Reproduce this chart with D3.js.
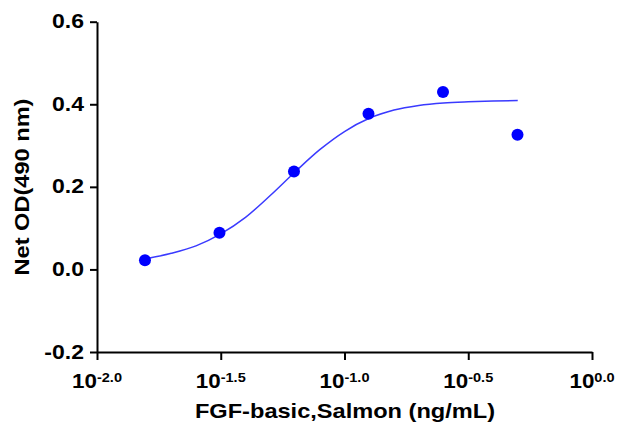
<!DOCTYPE html>
<html>
  <head>
    <meta charset="utf-8">
    <style>
      body { margin: 0; background: #fff; }
      svg { display: block; }
      .axis path, .axis line { stroke: #000; stroke-width: 2px; }
      .lbl { font-family: "Liberation Sans", Arial, sans-serif; font-weight: bold; fill: #000; }
    </style>
  </head>
  <body>
    <svg id="chart"></svg>
    <script src="https://cdn.jsdelivr.net/npm/d3@7"></script>
    <script>
      // measured points
      var concentrations = [0.015625, 0.03125, 0.0625, 0.125, 0.25, 0.5];
      var netOD = [0.022, 0.089, 0.237, 0.377, 0.430, 0.326];

      // fitted curve (log10 concentration -> OD)
      var fitLogConc = [-1.8, -1.7, -1.6, -1.5, -1.4, -1.3, -1.2, -1.1, -1.0, -0.9, -0.8, -0.7, -0.6, -0.5, -0.4, -0.3];
      var fitOD = [0.026, 0.039, 0.057, 0.086, 0.126, 0.179, 0.236, 0.290, 0.334, 0.366, 0.386, 0.397, 0.403, 0.406, 0.408, 0.409];

      var xTickExponents = ["-2.0", "-1.5", "-1.0", "-0.5", "0.0"];
      var yTicks = [-0.2, 0.0, 0.2, 0.4, 0.6];

      var xTitle = "FGF-basic,Salmon (ng/mL)",
          yTitle = "Net OD(490 nm)";

      var svg = d3.select("#chart").attr("width", 618).attr("height", 433),
          stretch = 1.15;

      var x = d3.scaleLog().domain([0.01, 1]).range([97, 592]),
          y = d3.scaleLinear().domain([-0.2, 0.6]).range([352, 21.7]);

      var fmt = d3.format(".1f");

      // y axis
      svg.append("g").attr("class", "axis")
        .attr("transform", "translate(97,0)")
        .call(d3.axisLeft(y).tickValues(yTicks).tickSize(7).tickSizeOuter(0).tickFormat(""));

      svg.append("g").selectAll("text")
        .data(yTicks).enter().append("text")
        .attr("class", "lbl")
        .attr("text-anchor", "end")
        .attr("font-size", 20)
        .attr("transform", function(d){ return "translate(84," + (y(d) + 6.5) + ") scale(" + stretch + ",1)"; })
        .text(function(d){ return fmt(d).replace("\u2212", "-"); });

      // x axis
      var xTickVals = xTickExponents.map(function(e){ return Math.pow(10, +e); });
      svg.append("g").attr("class", "axis")
        .attr("transform", "translate(0,352)")
        .call(d3.axisBottom(x).tickValues(xTickVals).tickSize(8).tickSizeOuter(0).tickFormat(""));

      var xl = svg.append("g").selectAll("text")
        .data(xTickExponents).enter().append("text")
        .attr("class", "lbl")
        .attr("text-anchor", "middle")
        .attr("transform", function(d){ return "translate(" + x(Math.pow(10, +d)) + ",388) scale(1.12,1)"; });
      xl.append("tspan").attr("font-size", 20).text("10");
      xl.append("tspan").attr("font-size", 13).attr("dy", -6).text(function(d){ return d; });

      // titles
      svg.append("text").attr("class", "lbl")
        .attr("text-anchor", "middle").attr("font-size", 20)
        .attr("transform", "translate(345,418) scale(1.18,1)")
        .text(xTitle);

      svg.append("text").attr("class", "lbl")
        .attr("text-anchor", "middle").attr("font-size", 20)
        .attr("transform", "translate(29,187) rotate(-90) scale(1.18,1)")
        .text(yTitle);

      // fit curve
      var line = d3.line()
        .x(function(d){ return x(Math.pow(10, d[0])); })
        .y(function(d){ return y(d[1]); })
        .curve(d3.curveMonotoneX);

      svg.append("path")
        .datum(d3.zip(fitLogConc, fitOD))
        .attr("d", line)
        .style("fill", "none")
        .style("stroke", "#3a3aff")
        .style("stroke-width", 1.5);

      // points
      svg.append("g").selectAll("circle")
        .data(d3.zip(concentrations, netOD)).enter().append("circle")
        .attr("cx", function(d){ return x(d[0]); })
        .attr("cy", function(d){ return y(d[1]); })
        .attr("r", 6)
        .style("fill", "#0000ff");
    </script>
  </body>
</html>
